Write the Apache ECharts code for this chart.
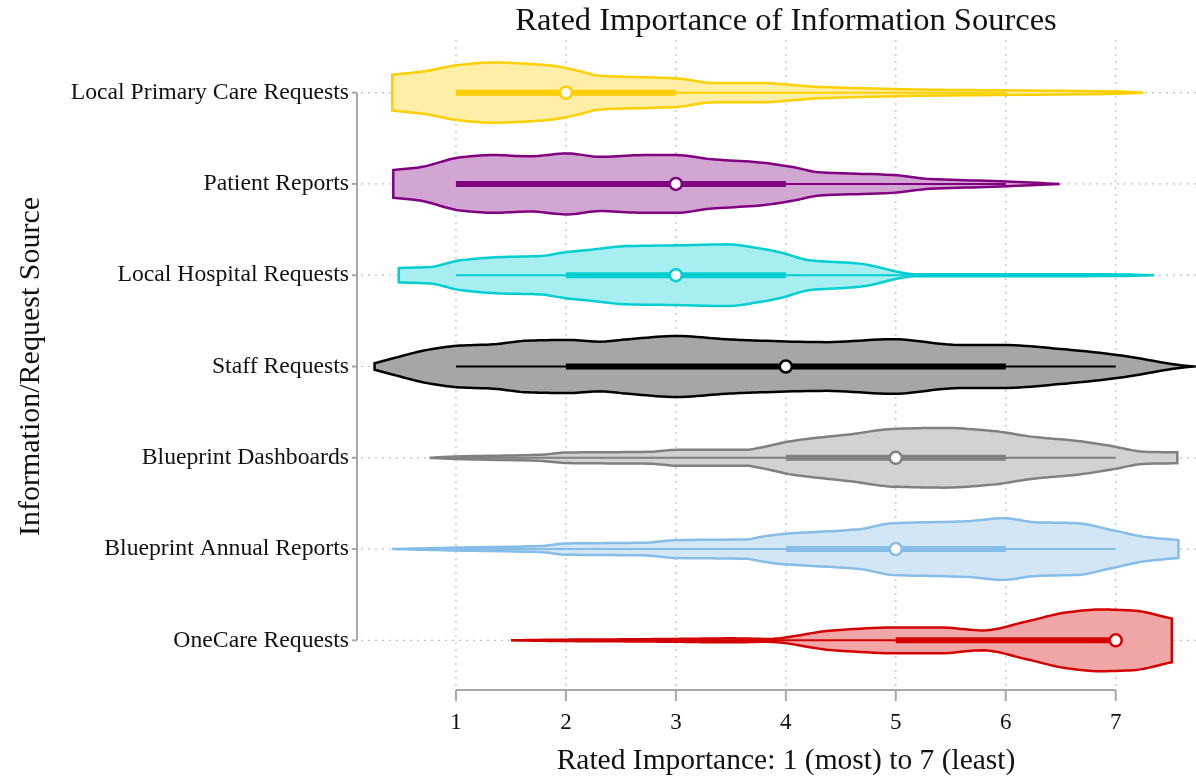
<!DOCTYPE html>
<html><head><meta charset="utf-8">
<script src="https://cdn.jsdelivr.net/npm/echarts@6/dist/echarts.min.js"></script>
<style>html,body{margin:0;padding:0;background:#fff}#c{width:1196px;height:781px}</style>
</head><body><div id="c"></div>
<script>
// ---------- DATA ----------
const categories = ['Local Primary Care Requests','Patient Reports','Local Hospital Requests','Staff Requests','Blueprint Dashboards','Blueprint Annual Reports','OneCare Requests'];
const xTicks = [1, 2, 3, 4, 5, 6, 7];

// Violin outlines: rating values and half-widths (% of category spacing)
const lpcX = [0.42, 0.70, 1.04, 1.34, 1.65, 1.88, 2.10, 2.31, 3.01, 3.34, 3.76, 4.31, 5.28, 6.01, 7.00, 7.25];
const lpcW = [19.6, 23.2, 30.5, 33.0, 31.6, 29.4, 24.3, 18.5, 15.6, 10.6, 10.6, 6.2, 3.3, 2.5, 1.3, 0];
const patX = [0.43, 0.67, 1.04, 1.34, 1.67, 2.01, 2.31, 2.70, 3.01, 3.31, 3.76, 4.06, 4.31, 4.97, 5.31, 5.95, 6.49];
const patW = [15.2, 18.2, 29.1, 31.6, 30.2, 33.4, 29.7, 31.6, 31.6, 27.2, 23.6, 18.5, 12.7, 9.8, 5.4, 2.9, 0];
const hosX = [0.48, 0.76, 1.04, 1.40, 1.76, 2.01, 2.25, 2.55, 3.01, 3.46, 3.76, 3.95, 4.22, 4.67, 5.19, 6.00, 7.01, 7.35];
const hosW = [7.9, 9.0, 16.3, 19.9, 21.0, 25.4, 28.3, 31.9, 32.7, 33.8, 29.4, 25.0, 16.3, 12.7, 1.1, 1.1, 0.9, 0];
const stfX = [0.26, 0.43, 0.74, 1.04, 1.34, 1.65, 2.01, 2.31, 2.55, 3.01, 3.46, 3.76, 4.37, 4.97, 5.58, 5.97, 6.49, 7.01, 7.58, 7.70];
const stfW = [3.6, 9.0, 18.2, 22.9, 24.3, 28.3, 29.1, 27.2, 29.7, 33.4, 29.9, 28.3, 26.7, 29.9, 23.6, 23.6, 19.3, 12.7, 1.6, 0];
const dshX = [0.76, 1.00, 1.76, 2.01, 2.76, 3.01, 3.64, 3.76, 4.06, 4.61, 4.97, 5.43, 5.88, 6.25, 6.65, 6.95, 7.28, 7.56];
const dshW = [0, 1.4, 3.3, 5.8, 6.5, 8.7, 8.7, 10.9, 18.5, 26.1, 31.6, 32.7, 29.4, 22.9, 18.5, 13.1, 6.5, 6.0];
const annX = [0.42, 1.00, 1.76, 2.01, 2.70, 3.01, 3.64, 3.76, 3.95, 4.67, 4.97, 5.65, 5.97, 6.28, 6.65, 6.97, 7.28, 7.57];
const annW = [0, 1.6, 3.3, 6.2, 6.9, 9.8, 10.6, 13.1, 16.3, 21.8, 28.3, 30.5, 33.8, 29.4, 28.3, 20.7, 13.1, 9.8];
const oneX = [1.50, 2.00, 2.50, 3.00, 3.50, 3.83, 4.43, 5.04, 5.40, 5.79, 6.19, 6.55, 6.85, 7.15, 7.51];
const oneW = [0, 0.8, 1.1, 1.6, 2.2, 1.6, 10.9, 14.2, 14.2, 10.9, 20.7, 30.5, 33.8, 32.7, 24.0];

// Box statistics
const whiskerLow  = [1, 1, 1, 1, 1, 1, 2];
const q1          = [1, 1, 2, 2, 4, 4, 5];
const median      = [2, 3, 3, 4, 5, 5, 7];
const q3          = [3, 4, 4, 6, 6, 6, 7];
const whiskerHigh = [6, 6, 7, 7, 7, 7, 7];

// ---------- STYLE ----------
const lineColors = ['#FFCF00', '#800080', '#00CED1', '#000000', '#808080', '#85BDE8', '#D40000'];
const fillColors = ['#FFEEA6', '#D2A6D2', '#A6EEEF', '#A6A6A6', '#D2D2D2', '#D3E6F6', '#F0A6A6'];
const FONT = '"Liberation Serif","Times New Roman",serif';
const TXT = '#111111';
const AX = '#A8A8A8';

const violinX = [lpcX, patX, hosX, stfX, dshX, annX, oneX];
const violinW = [lpcW, patW, hosW, stfW, dshW, annW, oneW];

// monotone cubic (PCHIP-like) interpolation for a smooth outline through the read points
function smoothOutline(xs, ys, sub) {
  const n = xs.length, d = [], m = [];
  for (let k = 0; k < n - 1; k++) d.push((ys[k + 1] - ys[k]) / (xs[k + 1] - xs[k]));
  m[0] = d[0]; m[n - 1] = d[n - 2];
  for (let k = 1; k < n - 1; k++) {
    m[k] = (d[k - 1] * d[k] <= 0) ? 0 : 2 / (1 / d[k - 1] + 1 / d[k]);
  }
  const out = [];
  for (let k = 0; k < n - 1; k++) {
    const h = xs[k + 1] - xs[k];
    for (let s = 0; s < sub; s++) {
      const t = s / sub, t2 = t * t, t3 = t2 * t;
      const y = (2 * t3 - 3 * t2 + 1) * ys[k] + (t3 - 2 * t2 + t) * h * m[k] + (-2 * t3 + 3 * t2) * ys[k + 1] + (t3 - t2) * h * m[k + 1];
      out.push([xs[k] + t * h, Math.max(0, y)]);
    }
  }
  out.push([xs[n - 1], ys[n - 1]]);
  return out;
}

function renderGuides(params, api) {
  const cs = params.coordSys;
  const top = cs.y, bottom = cs.y + cs.height, left = cs.x, right = cs.x + cs.width;
  const children = [];
  const dot = { stroke: '#BEBEBE', lineWidth: 1.2, lineDash: [2, 5] };
  xTicks.forEach(v => {
    const x = api.coord([v, 0])[0];
    children.push({ type: 'line', shape: { x1: x, y1: top - 7, x2: x, y2: bottom }, style: dot });
  });
  categories.forEach((c, i) => {
    const y = api.coord([xTicks[0], i])[1];
    children.push({ type: 'line', shape: { x1: left + 4, y1: y, x2: right, y2: y }, style: dot });
  });
  const xa = api.coord([xTicks[0], 0])[0];
  const xb = api.coord([xTicks[xTicks.length - 1], 0])[0];
  const ay = bottom + 4;
  children.push({ type: 'line', shape: { x1: xa, y1: ay, x2: xb, y2: ay }, style: { stroke: AX, lineWidth: 2 } });
  xTicks.forEach(v => {
    const x = api.coord([v, 0])[0];
    children.push({ type: 'line', shape: { x1: x, y1: ay, x2: x, y2: ay + 11 }, style: { stroke: AX, lineWidth: 2 } });
  });
  const y0 = api.coord([xTicks[0], 0])[1];
  const y1 = api.coord([xTicks[0], categories.length - 1])[1];
  children.push({ type: 'line', shape: { x1: left, y1: y0, x2: left, y2: y1 }, style: { stroke: AX, lineWidth: 2 } });
  categories.forEach((c, i) => {
    const y = api.coord([xTicks[0], i])[1];
    children.push({ type: 'line', shape: { x1: left - 5, y1: y, x2: left, y2: y }, style: { stroke: AX, lineWidth: 2 } });
  });
  return { type: 'group', children };
}

function renderViolin(params, api) {
  const i = api.value(1);
  const band = api.size([0, 1])[1];
  const dense = smoothOutline(violinX[i], violinW[i], 10);
  const topPts = [], botPts = [];
  dense.forEach(([xv, wv]) => {
    const p = api.coord([xv, i]);
    const h = wv / 100 * band;
    topPts.push([p[0], p[1] - h]);
    botPts.unshift([p[0], p[1] + h]);
  });
  const col = lineColors[i];
  const cy = api.coord([median[i], i])[1];
  const wl = api.coord([whiskerLow[i], i])[0], wh = api.coord([whiskerHigh[i], i])[0];
  const b1 = api.coord([q1[i], i])[0], b3 = api.coord([q3[i], i])[0];
  const mx = api.coord([median[i], i])[0];
  return {
    type: 'group',
    children: [
      { type: 'polygon', shape: { points: topPts.concat(botPts) }, style: { fill: fillColors[i], stroke: col, lineWidth: 2.5, lineJoin: 'miter' } },
      { type: 'line', shape: { x1: wl, y1: cy, x2: wh, y2: cy }, style: { stroke: col, lineWidth: 2 } },
      { type: 'line', shape: { x1: b1, y1: cy, x2: b3, y2: cy }, style: { stroke: col, lineWidth: 6, lineCap: 'butt' } },
      { type: 'circle', shape: { cx: mx, cy: cy, r: 6 }, style: { fill: '#ffffff', stroke: col, lineWidth: 2.5 } }
    ]
  };
}

const chart = echarts.init(document.getElementById('c'), null, { renderer: 'canvas' });
chart.setOption({
  animation: false,
  backgroundColor: '#ffffff',
  title: {
    text: 'Rated Importance of Information Sources',
    left: 786, top: 5, textAlign: 'center', padding: 0,
    textStyle: { fontFamily: FONT, fontSize: 32.5, fontWeight: 'normal', color: TXT }
  },
  grid: { left: 357, right: 0, top: 47, bottom: 91, containLabel: false },
  xAxis: {
    type: 'value', min: 0.1, max: 7.73,
    axisLine: { show: false }, axisTick: { show: false }, splitLine: { show: false },
    axisLabel: { customValues: xTicks, margin: 25, fontFamily: FONT, fontSize: 23, color: TXT },
    name: 'Rated Importance: 1 (most) to 7 (least)', nameLocation: 'middle', nameGap: 60,
    nameTextStyle: { fontFamily: FONT, fontSize: 29.5, color: TXT, padding: [0, 0, 0, 19] }
  },
  yAxis: {
    type: 'category', data: categories, inverse: true,
    axisLine: { show: false }, axisTick: { show: false }, splitLine: { show: false },
    axisLabel: { margin: 8, fontFamily: FONT, fontSize: 23.7, color: TXT },
    name: 'Information/Request Source', nameLocation: 'middle', nameGap: 311,
    nameTextStyle: { fontFamily: FONT, fontSize: 30, color: TXT }
  },
  series: [
    { type: 'custom', z: 1, silent: true, renderItem: renderGuides, data: [[xTicks[0], 0]] },
    { type: 'custom', z: 2, silent: true, renderItem: renderViolin, data: categories.map((c, i) => [median[i], i]) }
  ]
});
</script>
</body></html>
